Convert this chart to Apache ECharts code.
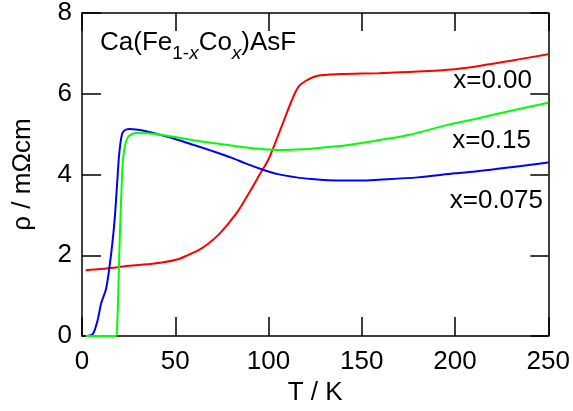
<!DOCTYPE html>
<html>
<head>
<meta charset="utf-8">
<script src="https://cdn.jsdelivr.net/npm/echarts@6/dist/echarts.min.js"></script>
<style>
html,body{margin:0;padding:0;background:#fff;}
#chart{width:573px;height:411px;}
</style>
</head>
<body>
<div id="chart"></div>
<script>
// ---- Data ----
var xTicks = [0, 50, 100, 150, 200, 250];
var yTicks = [0, 2, 4, 6, 8];

var tRed = [2, 10, 20, 25, 35, 43, 52, 57, 63, 68, 73, 78, 84, 89, 95, 100, 105, 109, 112.5, 116, 119.6, 125, 134, 141, 159, 180, 200, 212, 230, 250];
var rhoRed = [1.63, 1.66, 1.71, 1.74, 1.78, 1.82, 1.91, 2.01, 2.14, 2.30, 2.50, 2.76, 3.12, 3.50, 3.98, 4.38, 4.95, 5.43, 5.84, 6.17, 6.31, 6.43, 6.48, 6.49, 6.51, 6.55, 6.61, 6.68, 6.82, 6.98];

var tGreen = [2, 10, 18, 18.8, 19.5, 20.3, 21, 21.6, 22.3, 23.6, 25.3, 28.9, 35, 43, 52, 60, 70, 80, 88, 97, 105, 115, 123, 132, 141, 150, 159, 175, 196, 212, 230, 250];
var rhoGreen = [0, 0, 0, 0.2, 1.2, 2.5, 3.4, 4.1, 4.5, 4.82, 4.96, 5.03, 5.02, 4.98, 4.91, 4.85, 4.78, 4.72, 4.67, 4.63, 4.61, 4.62, 4.64, 4.68, 4.72, 4.78, 4.85, 4.98, 5.23, 5.39, 5.58, 5.78];

var tBlue = [3, 5.8, 8.4, 10.2, 12.9, 14.7, 16.4, 17.7, 19.1, 20, 21.4, 22.7, 25.3, 30, 34.3, 43, 52, 60, 70, 80, 88, 97, 105, 115, 123, 132, 141, 150, 159, 180, 200, 212, 230, 250];
var rhoBlue = [0, 0.05, 0.40, 0.80, 1.17, 1.70, 2.35, 3.0, 3.97, 4.54, 4.99, 5.09, 5.13, 5.11, 5.07, 4.97, 4.85, 4.73, 4.58, 4.42, 4.27, 4.12, 4.01, 3.93, 3.89, 3.86, 3.85, 3.85, 3.87, 3.93, 4.03, 4.08, 4.18, 4.30];

var seriesNames = ['x=0.00', 'x=0.15', 'x=0.075'];
var seriesColors = ['#ff0000', '#00ff00', '#0000ff'];

// ---- Chart ----
var FONT = '"Liberation Sans", Arial, sans-serif';
var FS = 26;
function zip(a, b) { return a.map(function (v, i) { return [v, b[i]]; }); }

var chart = echarts.init(document.getElementById('chart'), null, {renderer: 'canvas'});

function axisCommon(len, showLabel) {
  return {
    axisLine: {show: true, onZero: false, lineStyle: {color: '#000', width: 1.5}},
    axisTick: {show: true, inside: true, length: len, lineStyle: {color: '#000', width: 1.5}},
    splitLine: {show: false},
    axisLabel: {show: showLabel, color: '#000', fontSize: FS, fontFamily: FONT}
  };
}

var xb = axisCommon(19, true);
var xt = axisCommon(18, false);
var yl = axisCommon(19, true);
var yr = axisCommon(18, false);

function lineSeries(i, t, r, z) {
  return {name: seriesNames[i], type: 'line', data: zip(t, r), showSymbol: false, smooth: 0.3,
    lineStyle: {color: seriesColors[i], width: 2}, itemStyle: {color: seriesColors[i]}, z: z};
}

var option = {
  animation: false,
  backgroundColor: '#fff',
  grid: {left: 82, top: 12, right: 22, bottom: 71, containLabel: false},
  xAxis: [
    Object.assign({type: 'value', position: 'bottom', min: xTicks[0], max: xTicks[xTicks.length - 1], interval: xTicks[1] - xTicks[0],
      name: 'T / K', nameLocation: 'middle', nameGap: 41,
      nameTextStyle: {color: '#000', fontSize: FS, fontFamily: FONT}}, xb,
      {axisLabel: Object.assign({}, xb.axisLabel, {margin: 13})}),
    Object.assign({type: 'value', position: 'top', min: xTicks[0], max: xTicks[xTicks.length - 1], interval: xTicks[1] - xTicks[0]}, xt)
  ],
  yAxis: [
    Object.assign({type: 'value', position: 'left', min: yTicks[0], max: yTicks[yTicks.length - 1], interval: yTicks[1] - yTicks[0],
      name: 'ρ / mΩcm', nameLocation: 'middle', nameGap: 46,
      nameTextStyle: {color: '#000', fontSize: FS, fontFamily: FONT}}, yl,
      {axisLabel: Object.assign({}, yl.axisLabel, {margin: 10})}),
    Object.assign({type: 'value', position: 'right', min: yTicks[0], max: yTicks[yTicks.length - 1], interval: yTicks[1] - yTicks[0]}, yr)
  ],
  series: [
    lineSeries(0, tRed, rhoRed, 3),
    lineSeries(1, tGreen, rhoGreen, 4),
    lineSeries(2, tBlue, rhoBlue, 3)
  ]
};
chart.setOption(option);

// ---- Text annotations ----
var ctx = document.createElement('canvas').getContext('2d');
function measure(txt, size, italic) {
  ctx.font = (italic ? 'italic ' : '') + size + 'px ' + FONT;
  return ctx.measureText(txt).width;
}
var titleParts = [
  {t: 'Ca(Fe', s: 26, i: false, sub: false},
  {t: '1-', s: 19, i: false, sub: true},
  {t: 'x', s: 19, i: true, sub: true},
  {t: 'Co', s: 26, i: false, sub: false},
  {t: 'x', s: 19, i: true, sub: true},
  {t: ')AsF', s: 26, i: false, sub: false}
];
var graphics = [];
var cx = 100, baseY = 53;
titleParts.forEach(function (p) {
  var base = p.sub ? baseY + 8 : baseY;
  graphics.push({type: 'text', left: cx, top: base - p.s * 0.905, silent: true,
    style: {text: p.t, fill: '#000', font: (p.i ? 'italic ' : '') + p.s + 'px ' + FONT}});
  cx += measure(p.t, p.s, p.i);
});
var labels = [
  {t: seriesNames[0], right: 532, base: 91.7},
  {t: seriesNames[1], right: 531, base: 151.7},
  {t: seriesNames[2], right: 543, base: 211.7}
];
labels.forEach(function (l) {
  var w = measure(l.t, FS, false);
  graphics.push({type: 'text', left: l.right - w, top: l.base - FS * 0.905, silent: true,
    style: {text: l.t, fill: '#000', font: FS + 'px ' + FONT}});
});
chart.setOption({graphic: graphics});
</script>
</body>
</html>
